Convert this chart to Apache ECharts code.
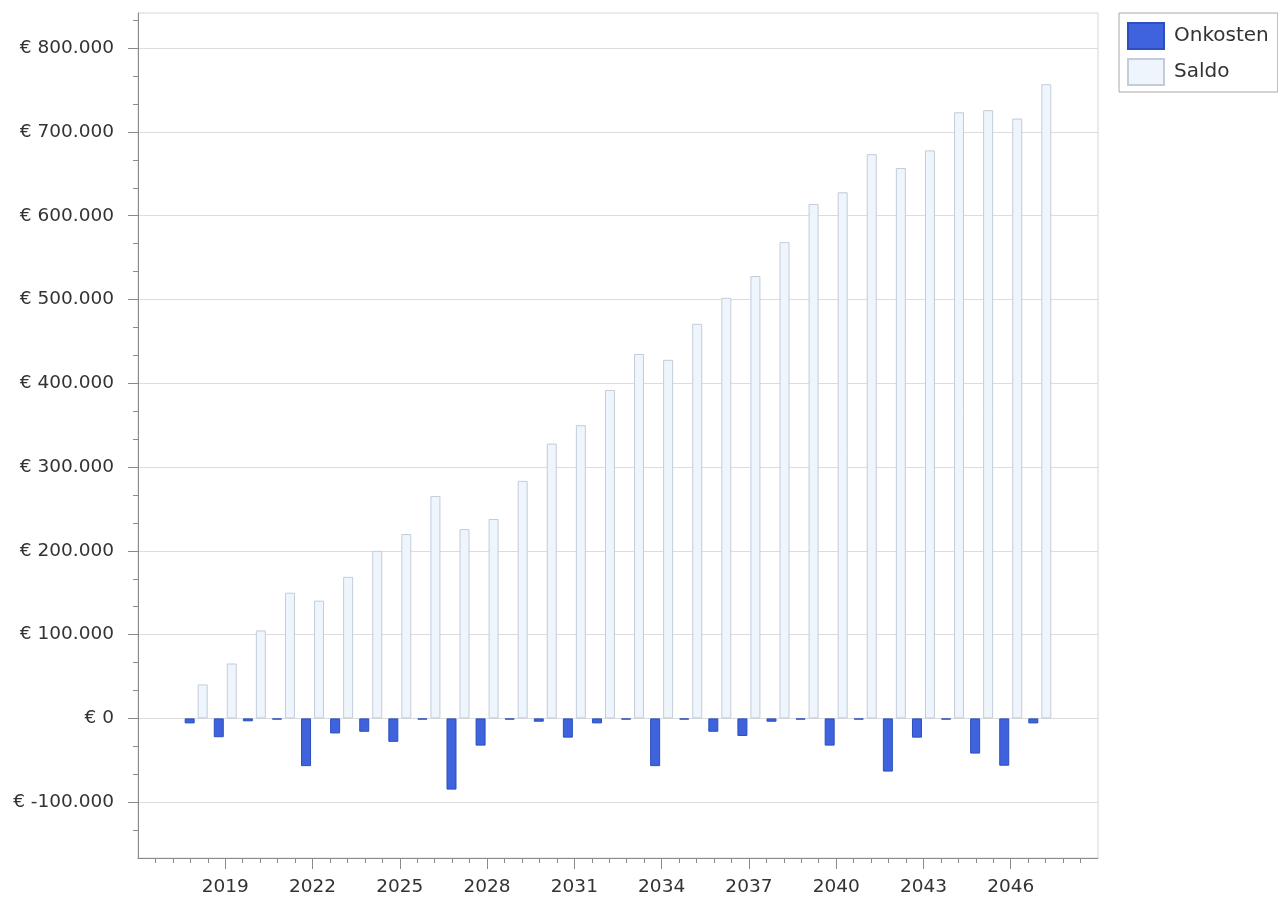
<!DOCTYPE html>
<html style="height: 100%">
<head>
<meta charset="utf-8">
<script type="text/javascript" src="https://cdn.jsdelivr.net/npm/echarts@6/dist/echarts.min.js"></script>
<script type="text/javascript">
var YEARS = [2018,2019,2020,2021,2022,2023,2024,2025,2026,2027,2028,2029,2030,2031,2032,
             2033,2034,2035,2036,2037,2038,2039,2040,2041,2042,2043,2044,2045,2046,2047];
var ONKOSTEN = [-6000,-22500,-3500,-1500,-57000,-18000,-16000,-28000,-1500,-85000,-32500,-1500,-4000,-23000,-6000,
                -1500,-57000,-1500,-16000,-21000,-4000,-1500,-32500,-1500,-63500,-23000,-1500,-42000,-56500,-6000];
var SALDO = [40500,65500,105000,150000,140500,169000,200000,220000,265500,226000,238000,283500,328000,350000,392000,
             435000,428000,471000,502000,528000,568500,614000,628000,673500,657000,678000,723500,726000,716000,757000];

// as-labels
var X_TICKS = [2019,2022,2025,2028,2031,2034,2037,2040,2043,2046];
var Y_TICKS = [-100000,0,100000,200000,300000,400000,500000,600000,700000,800000];

function pairs(ys)
{
    var out = [];
    for (var i = 0; i < YEARS.length; i++) {
        out.push([YEARS[i], ys[i]]);
    }
    return out;
}

// kleine streepjes: 3 per stap van 100.000
function yMinor()
{
    var out = [];
    for (var k = -4; k <= 25; k++) {
        if (k % 3 !== 0) out.push(k * 100000 / 3);
    }
    return out;
}

function euro(v)
{
    var s = Math.abs(Math.round(v)).toString().replace(/\B(?=(\d{3})+(?!\d))/g, '.');
    return '€ ' + (v < 0 ? '-' : '') + s;
}

var FONT = 'DejaVu Sans';
var TXT = '#333333';
var AX = '#8a8a8a';
var Y_MIN = -500000 / 3;
var Y_MAX = 842000;
</script>
</head>
<body style="height: 100%; margin: 0; background: #fff">
<div id="container" style="width: 1278px; height: 902px"></div>
<script type="text/javascript">
var myChart = echarts.init(document.getElementById('container'));
var option = {
    backgroundColor: '#ffffff',
    animation: false,
    textStyle: {fontFamily: FONT},
    grid: {
        left: 138, right: 180, top: 13, bottom: 44,
        show: true, borderColor: '#d6d6d6', borderWidth: 1, backgroundColor: 'transparent'
    },
    legend: {
        orient: 'vertical',
        left: 1119, top: 13,
        padding: [9, 9, 6, 8],
        itemWidth: 36, itemHeight: 26, itemGap: 8,
        borderColor: '#a8a8a8', borderWidth: 1, borderRadius: 0,
        backgroundColor: '#ffffff',
        icon: 'rect',
        textStyle: {fontFamily: FONT, fontSize: 20, lineHeight: 22, color: TXT, padding: [0, 0, 0, 5]},
        data: ['Onkosten', 'Saldo']
    },
    xAxis: {
        type: 'value',
        min: 2016, max: 2049, interval: 3,
        axisLine: {onZero: false, lineStyle: {color: AX}},
        axisTick: {length: 11, customValues: X_TICKS, lineStyle: {color: AX}},
        minorTick: {show: true, splitNumber: 5, length: 5, lineStyle: {color: AX}},
        splitLine: {show: false},
        axisLabel: {
            customValues: X_TICKS,
            margin: 20, fontSize: 18.5, color: TXT, fontFamily: FONT,
            formatter: function (v) { return String(v); }
        }
    },
    yAxis: [{
        type: 'value',
        min: Y_MIN, max: Y_MAX, interval: 100000 / 3,
        axisLine: {show: true, onZero: false, lineStyle: {color: AX}},
        axisTick: {show: true, length: 10, customValues: Y_TICKS, lineStyle: {color: AX}},
        splitLine: {lineStyle: {color: '#dcdcdc'}},
        axisLabel: {
            customValues: Y_TICKS,
            margin: 24, fontSize: 18.5, color: TXT, fontFamily: FONT,
            formatter: euro
        }
    }, {
        type: 'value',
        position: 'left',
        min: Y_MIN, max: Y_MAX, interval: 100000 / 3,
        axisLine: {show: false},
        axisTick: {show: true, length: 5, customValues: yMinor(), lineStyle: {color: AX}},
        axisLabel: {show: false},
        splitLine: {show: false}
    }],
    series: [{
        name: 'Onkosten',
        type: 'bar',
        barWidth: 10,
        barGap: '30%',
        itemStyle: {color: '#3e63dc', borderColor: '#2c4fbf', borderWidth: 1},
        data: pairs(ONKOSTEN)
    }, {
        name: 'Saldo',
        type: 'bar',
        barWidth: 10,
        barGap: '30%',
        itemStyle: {color: '#eef5fd', borderColor: '#c3ccd8', borderWidth: 1},
        data: pairs(SALDO)
    }]
};
myChart.setOption(option, true);
</script>
</body>
</html>
